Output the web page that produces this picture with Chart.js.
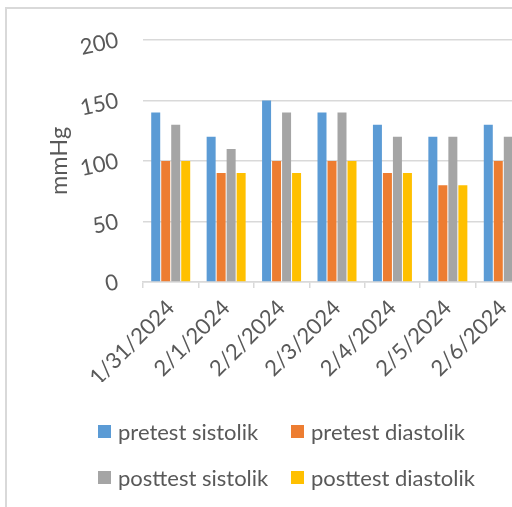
<!DOCTYPE html>
<html><head><meta charset="utf-8">
<script src="https://cdn.jsdelivr.net/npm/chart.js@4"></script>
<style>
html,body{margin:0;padding:0;overflow:hidden;background:#fff;width:512px;height:507px}
#wrap{width:560px;height:507px;position:relative}
</style></head>
<body><div id="wrap"><canvas id="c" width="560" height="507"></canvas></div>
<script>
const categories = ['1/31/2024','2/1/2024','2/2/2024','2/3/2024','2/4/2024','2/5/2024','2/6/2024'];
const seriesNames = ['pretest sistolik','pretest diastolik','posttest sistolik','posttest diastolik'];
const pretestSistolik  = [140,120,150,140,130,120,130];
const pretestDiastolik = [100, 90,100,100, 90, 80,100];
const posttestSistolik = [130,110,140,140,120,120,120];
const posttestDiastolik= [100, 90, 90,100, 90, 80, 90];
const yTicks = [0,50,100,150,200];
const yTitle = 'mmHg';
const colors = ['#5B9BD5','#ED7D31','#A5A5A5','#FFC000'];

const FAMILY = 'Lato, "Noto Sans", sans-serif';
const TEXT = '#595959';
const GRID = '#d9d9d9';
const mctx = document.createElement('canvas').getContext('2d');
mctx.font = '100px ' + FAMILY;
const FS = Math.round(100 * 140 / mctx.measureText('pretest sistolik').width * 10) / 10;

const borderPlugin = {
  id: 'xlBorder',
  beforeDraw(chart) {
    const ctx = chart.ctx;
    ctx.save();
    ctx.strokeStyle = GRID; ctx.lineWidth = 2;
    ctx.beginPath();
    ctx.moveTo(6, chart.height); ctx.lineTo(6, 8); ctx.lineTo(chart.width, 8);
    ctx.stroke();
    ctx.restore();
  }
};
const legendPlugin = {
  id: 'xlLegend',
  afterDraw(chart) {
    const ctx = chart.ctx;
    const cols = [98, 291], rows = [431.5, 477.5];
    ctx.save();
    ctx.font = FS + 'px ' + FAMILY;
    ctx.textBaseline = 'middle';
    ctx.textAlign = 'left';
    chart.data.datasets.forEach((ds, i) => {
      const x = cols[i % 2], y = rows[Math.floor(i / 2)];
      ctx.fillStyle = ds.backgroundColor;
      ctx.fillRect(x, y - 6.5, 13, 13);
      ctx.fillStyle = TEXT;
      ctx.fillText(ds.label, x + 20, y + 1);
    });
    ctx.restore();
  }
};

const seriesData = [pretestSistolik, pretestDiastolik, posttestSistolik, posttestDiastolik];
new Chart(document.getElementById('c'), {
  type: 'bar',
  data: {
    labels: categories,
    datasets: seriesNames.map((n, i) => ({
      label: n, data: seriesData[i], backgroundColor: colors[i],
      barPercentage: 0.9, categoryPercentage: 0.7216
    }))
  },
  options: {
    responsive: false, animation: false,
    layout: { padding: { left: 0, right: 29, top: 40, bottom: 125 } },
    plugins: { legend: { display: false }, tooltip: { enabled: false } },
    scales: {
      x: {
        offset: true,
        grid: { offset: true, drawOnChartArea: false, drawTicks: true, tickLength: 6, color: GRID, lineWidth: 1.5 },
        border: { display: true, color: GRID, width: 1.5 },
        ticks: { autoSkip: false, minRotation: 45, maxRotation: 45, padding: 7, color: TEXT, font: { family: FAMILY, size: FS } },
        afterFit(s) { s.height = 100; }
      },
      y: {
        min: 0, max: 200,
        afterBuildTicks(s) { s.ticks = yTicks.map(v => ({ value: v })); },
        grid: { color: GRID, lineWidth: 1.5, drawTicks: false },
        border: { display: false },
        ticks: { padding: 25, minRotation: 12, maxRotation: 12, color: TEXT, font: { family: FAMILY, size: FS } },
        title: { display: true, text: yTitle, color: TEXT, font: { family: FAMILY, size: FS + 1.5 }, padding: { top: 45, bottom: 0 } },
        afterFit(s) { s.width = 143; }
      }
    }
  },
  plugins: [borderPlugin, legendPlugin]
});
</script>
</body></html>
